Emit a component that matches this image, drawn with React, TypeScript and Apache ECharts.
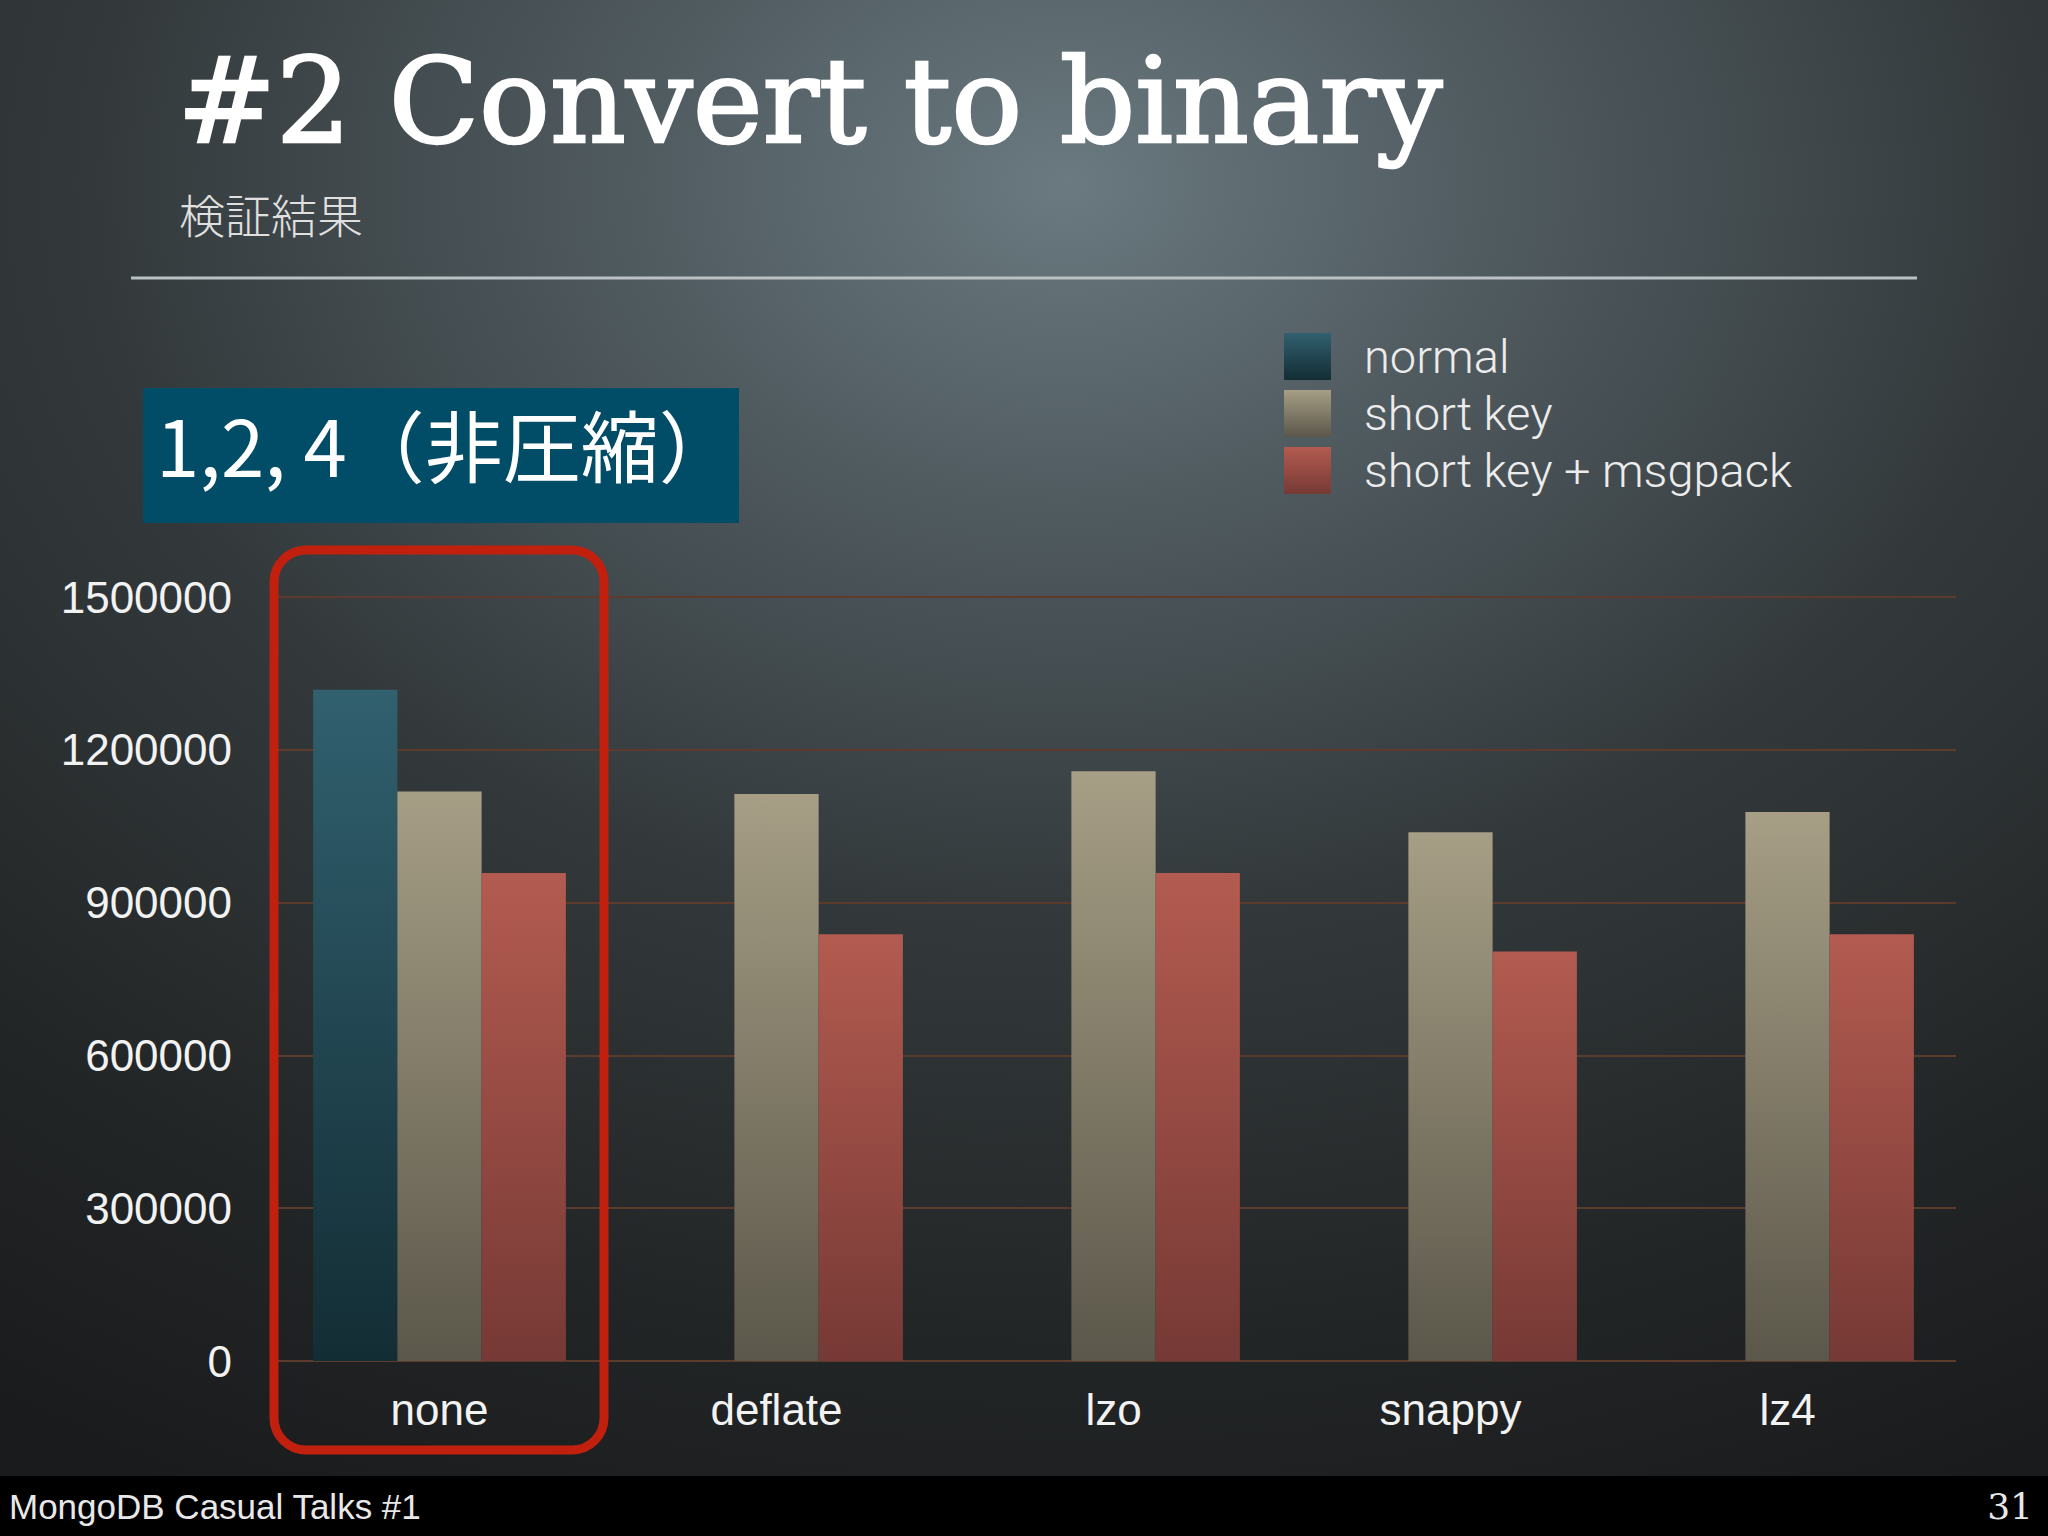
import React, { useEffect, useRef } from "react";
import * as echarts from "echarts";

const categories = ["none", "deflate", "lzo", "snappy", "lz4"];
const seriesNames = ["normal", "short key", "short key + msgpack"];
const normalValues = [1318000, null, null, null, null];
const shortKeyValues = [1118000, 1113000, 1158000, 1038000, 1078000];
const msgpackValues = [958000, 838000, 958000, 804000, 838000];
const yTicks = { min: 0, max: 1500000, interval: 300000 };

const titleText = "#2 Convert to binary";
const subtitleText = "検証結果";
const boxText = "1,2, 4（非圧縮）";
const footerLeft = "MongoDB Casual Talks #1";
const footerRight = "31";

const grad = (top: string, bottom: string) =>
  new echarts.graphic.LinearGradient(0, 0, 0, 1, [
    { offset: 0, color: top },
    { offset: 1, color: bottom },
  ]);

export default function App() {
  const ref = useRef<HTMLDivElement>(null);
  useEffect(() => {
    document.body.style.margin = "0";
    const chart = echarts.init(ref.current!, null, { renderer: "svg" });
    const sans = "'Liberation Sans', Arial, sans-serif";
    const cjk = "'Noto Sans CJK JP', 'Noto Sans', sans-serif";
    const serif = "'DejaVu Serif', serif";
    chart.setOption({
      animation: false,
      backgroundColor: {
        type: "radial",
        x: 0.52,
        y: 0.12,
        r: 0.95,
        colorStops: [
          { offset: 0, color: "#6a7a80" },
          { offset: 0.22, color: "#505b60" },
          { offset: 0.5, color: "#33393b" },
          { offset: 0.8, color: "#222526" },
          { offset: 1, color: "#1a1b1c" },
        ],
      },
      grid: { left: 271, right: 92, top: 597, bottom: 175, containLabel: false },
      legend: {
        orient: "vertical",
        left: 1279,
        top: 328,
        itemWidth: 47,
        itemHeight: 47,
        itemGap: 10,
        icon: "rect",
        data: seriesNames,
        textStyle: {
          color: "#ececec",
          fontSize: 47,
          fontFamily: "Roboto, 'Liberation Sans', sans-serif",
          fontWeight: 300,
          padding: [0, 0, 0, 28],
        },
      },
      xAxis: {
        type: "category",
        data: categories,
        axisLine: { show: false },
        axisTick: { show: false },
        axisLabel: { color: "#f2f2f2", fontSize: 44, fontFamily: sans, margin: 26 },
      },
      yAxis: {
        type: "value",
        min: yTicks.min,
        max: yTicks.max,
        interval: yTicks.interval,
        axisLine: { show: false },
        axisTick: { show: false },
        axisLabel: {
          color: "#f2f2f2",
          fontSize: 44,
          fontFamily: sans,
          margin: 39,
          formatter: (v: number) => String(v),
        },
        splitLine: { lineStyle: { color: "#5c3a2c", width: 2 } },
      },
      series: [
        {
          name: seriesNames[0],
          type: "bar",
          data: normalValues,
          barGap: "0%",
          barCategoryGap: "25%",
          itemStyle: { color: grad("#31606f", "#132d34") },
        },
        {
          name: seriesNames[1],
          type: "bar",
          data: shortKeyValues,
          barGap: "0%",
          barCategoryGap: "25%",
          itemStyle: { color: grad("#a69e85", "#5b574a") },
        },
        {
          name: seriesNames[2],
          type: "bar",
          data: msgpackValues,
          barGap: "0%",
          barCategoryGap: "25%",
          itemStyle: { color: grad("#b35b50", "#763935") },
        },
      ],
      graphic: [
        {
          type: "text",
          left: 176,
          top: 41,
          style: {
            text: titleText,
            font: `118px ${serif}`,
            fill: "#ffffff",
            stroke: "#ffffff",
            lineWidth: 2.5,
          },
        },
        {
          type: "text",
          x: 179,
          y: 213,
          style: {
            text: subtitleText,
            font: `300 46px ${cjk}`,
            fill: "#e0e0e0",
            verticalAlign: "middle",
          },
        },
        {
          type: "line",
          shape: { x1: 131, y1: 278, x2: 1917, y2: 278 },
          style: { stroke: "#b9c1c4", lineWidth: 3 },
        },
        {
          type: "rect",
          shape: { x: 143, y: 388, width: 596, height: 135 },
          style: { fill: "#014c66" },
        },
        {
          type: "text",
          x: 156,
          y: 443,
          style: {
            text: boxText,
            font: `78px ${cjk}`,
            fill: "#ffffff",
            verticalAlign: "middle",
          },
        },
        {
          type: "rect",
          shape: { x: 274, y: 550, width: 330, height: 900, r: 32 },
          style: { fill: "none", stroke: "#c1200f", lineWidth: 9 },
          z: 10,
        },
        {
          type: "rect",
          shape: { x: 0, y: 1476, width: 2048, height: 60 },
          style: { fill: "#000000" },
        },
        {
          type: "text",
          x: 9,
          y: 1506,
          style: {
            text: footerLeft,
            font: `35px ${sans}`,
            fill: "#e8e8e8",
            verticalAlign: "middle",
          },
        },
        {
          type: "text",
          x: 2033,
          y: 1506,
          style: {
            text: footerRight,
            font: `36px ${serif}`,
            fill: "#e8e8e8",
            align: "right",
            verticalAlign: "middle",
          },
        },
      ],
    });
    return () => chart.dispose();
  }, []);
  return (
    <div
      ref={ref}
      style={{ position: "absolute", left: 0, top: 0, width: 2048, height: 1536 }}
    />
  );
}
